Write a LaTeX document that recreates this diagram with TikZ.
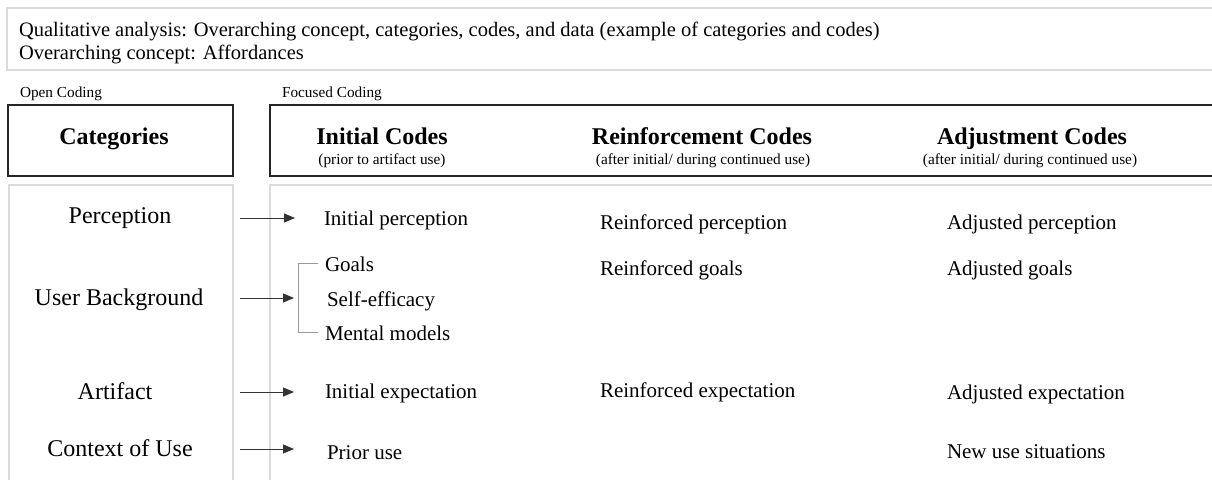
\documentclass[tikz,border=0pt]{standalone}
\usepackage{fontspec}
\setmainfont{Liberation Serif}
\usetikzlibrary{arrows.meta}
\tikzset{
  lightbox/.style={draw=black!14, line width=1.3pt},
  headbox/.style={draw=black!85, line width=1.8pt},
  txt/.style={inner sep=0pt, outer sep=0pt, anchor=base west},
  ctxt/.style={inner sep=0pt, outer sep=0pt, anchor=base},
  top/.style={font=\fontsize{20.5}{24}\selectfont},
  small/.style={font=\fontsize{15.3}{18}\selectfont},
  head/.style={font=\fontsize{24}{28}\selectfont\bfseries},
  cat/.style={font=\fontsize{24}{28}\selectfont},
  code/.style={font=\fontsize{21}{24}\selectfont},
  arr/.style={draw=black!80, line width=1pt, -{Triangle[length=11pt,width=9pt]}},
  brk/.style={draw=black!40, line width=1pt},
}
\begin{document}
\begin{tikzpicture}[x=1pt,y=-1pt]
\useasboundingbox (0,0) rectangle (1212,479);
\clip (0,0) rectangle (1212,479);
\fill[white] (0,0) rectangle (1212,479);
% boxes
\draw[lightbox] (1230,8) -- (7,8) -- (7,70) -- (1230,70);
\draw[headbox] (8,105) rectangle (233,176);
\draw[headbox] (1230,105) -- (270,105) -- (270,176) -- (1230,176);
\draw[lightbox] (9,495) -- (9,185) -- (233,185) -- (233,495);
\draw[lightbox] (270,495) -- (270,185) -- (1230,185);
% top texts
\node[txt,top] (t1) at (19,36) {Qualitative analysis: Overarching concept, categories, codes, and data (example of categories and codes)};
\node[txt,top] (t2) at (19,59) {Overarching concept: Affordances};
\node[txt,small] (oc) at (20,97) {Open Coding};
\node[txt,small] (fc) at (282,97) {Focused Coding};
% headers
\node[ctxt,head] (hcat) at (114,144) {Categories};
\node[ctxt,head] (hini) at (382,144) {Initial Codes};
\node[ctxt,small] (sini) at (382,164) {(prior to artifact use)};
\node[ctxt,head] (hrei) at (702,144) {Reinforcement Codes};
\node[ctxt,small] (srei) at (703,164) {(after initial/ during continued use)};
\node[ctxt,head] (hadj) at (1032,144) {Adjustment Codes};
\node[ctxt,small] (sadj) at (1030,164) {(after initial/ during continued use)};
% categories
\node[ctxt,cat] (c1) at (120,223) {Perception};
\node[ctxt,cat] (c2) at (119,305) {User Background};
\node[ctxt,cat] (c3) at (115,399) {Artifact};
\node[ctxt,cat] (c4) at (120,456) {Context of Use};
% initial codes
\node[txt,code] (i1) at (324,225) {Initial perception};
\node[txt,code] (i2a) at (325,271) {Goals};
\node[txt,code] (i2b) at (327,306) {Self-efficacy};
\node[txt,code] (i2c) at (325,340) {Mental models};
\node[txt,code] (i3) at (325,398) {Initial expectation};
\node[txt,code] (i4) at (327,459) {Prior use};
% reinforcement
\node[txt,code] (r1) at (600,229) {Reinforced perception};
\node[txt,code] (r2) at (600,275) {Reinforced goals};
\node[txt,code] (r3) at (600,397) {Reinforced expectation};
% adjusted
\node[txt,code] (a1) at (947,229) {Adjusted perception};
\node[txt,code] (a2) at (947,275) {Adjusted goals};
\node[txt,code] (a3) at (947,399) {Adjusted expectation};
\node[txt,code] (a4) at (947,458) {New use situations};
% arrows
\coordinate (s1) at (240,218); \coordinate (e1) at (295,218);
\coordinate (s2) at (240,298); \coordinate (e2) at (294,298);
\coordinate (s3) at (240,392); \coordinate (e3) at (294,392);
\coordinate (s4) at (240,449); \coordinate (e4) at (294,449);
\draw[arr] (s1) -- (e1);
\draw[arr] (s2) -- (e2);
\draw[arr] (s3) -- (e3);
\draw[arr] (s4) -- (e4);
% bracket
\coordinate (b1) at (318,263); \coordinate (b2) at (298,263);
\coordinate (b3) at (298,332); \coordinate (b4) at (318,332);
\draw[brk] (b1) -- (b2) -- (b3) -- (b4);
\end{tikzpicture}
\end{document}
